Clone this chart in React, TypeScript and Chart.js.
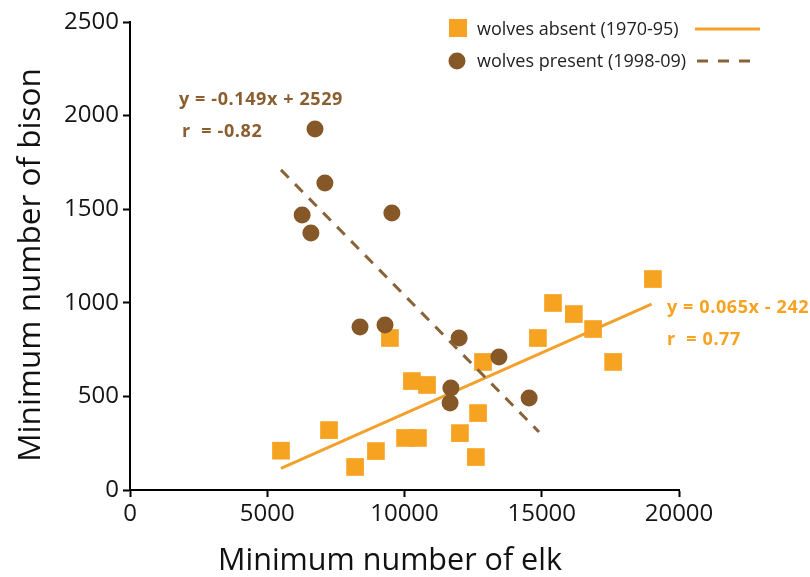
import React, { useEffect, useRef } from "react";
import { Chart, registerables } from "chart.js";

Chart.register(...registerables);

// Wolves absent (1970-95): elk vs bison
const absentElk = [5500, 7250, 8200, 8960, 9470, 10020, 10490, 10270, 10820, 12020, 12680, 12600, 12860, 14860, 15410, 16170, 16870, 17600, 19050];
const absentBison = [210, 320, 123, 208, 812, 278, 278, 582, 561, 304, 411, 176, 684, 812, 999, 940, 860, 684, 1127];

// Wolves present (1998-09)
const presentElk = [6740, 7100, 6270, 6590, 9540, 8380, 9290, 11990, 13440, 11690, 11660, 14540];
const presentBison = [1928, 1640, 1469, 1373, 1480, 871, 881, 812, 710, 545, 465, 491];

// Fit line end points as drawn
const absentFitElk = [5500, 19000];
const absentFitBison = [116, 993];
const presentFitElk = [5500, 14900];
const presentFitBison = [1710, 310];

const xTicks = [0, 5000, 10000, 15000, 20000];
const yTicks = [0, 500, 1000, 1500, 2000, 2500];

const ORANGE = "#F6A322";
const ORANGE_LINE = "#F3A12C";
const BROWN = "#875827";
const BROWN_TEXT = "#8A5E31";
const BROWN_LINE = "#8A6238";
const FONT = '"Open Sans", "DejaVu Sans", sans-serif';

const zip = (xs: number[], ys: number[]) => xs.map((x, i) => ({ x, y: ys[i] }));

const overlay = {
  id: "overlay",
  afterDraw(chart: any) {
    const ctx = chart.ctx as any;
    ctx.save();
    // Axis titles
    ctx.fillStyle = "#111";
    ctx.font = `30.5px ${FONT}`;
    ctx.textAlign = "center";
    ctx.textBaseline = "alphabetic";
    ctx.fillText("Minimum number of elk", 390, 570);
    ctx.save();
    ctx.translate(40, 265);
    ctx.rotate(-Math.PI / 2);
    ctx.font = `31.5px ${FONT}`;
    ctx.fillText("Minimum number of bison", 0, 0);
    ctx.restore();

    // Legend
    ctx.textAlign = "left";
    ctx.font = `18px ${FONT}`;
    ctx.fillStyle = ORANGE;
    ctx.fillRect(449, 19, 18, 18);
    ctx.fillStyle = "#222";
    ctx.fillText("wolves absent (1970-95)", 477, 35);
    ctx.strokeStyle = ORANGE_LINE;
    ctx.lineWidth = 3;
    ctx.beginPath();
    ctx.moveTo(695, 29);
    ctx.lineTo(760, 29);
    ctx.stroke();

    ctx.fillStyle = BROWN;
    ctx.beginPath();
    ctx.arc(457, 61, 8.5, 0, Math.PI * 2);
    ctx.fill();
    ctx.fillStyle = "#222";
    ctx.fillText("wolves present (1998-09)", 477, 67);
    ctx.strokeStyle = BROWN_LINE;
    ctx.setLineDash([11, 10]);
    ctx.beginPath();
    ctx.moveTo(697, 61);
    ctx.lineTo(760, 61);
    ctx.stroke();
    ctx.setLineDash([]);

    // Equations
    ctx.font = `bold 18px ${FONT}`;
    ctx.letterSpacing = "0.6px";
    ctx.fillStyle = BROWN_TEXT;
    ctx.fillText("y = -0.149x + 2529", 179, 105);
    ctx.fillText("r  = -0.82", 182, 137);
    ctx.fillStyle = ORANGE;
    ctx.fillText("y = 0.065x - 242", 667, 313);
    ctx.fillText("r  = 0.77", 667, 345);
    ctx.letterSpacing = "0px";
    ctx.restore();
  },
};

export default function App() {
  const ref = useRef<HTMLCanvasElement>(null);
  useEffect(() => {
    if (!ref.current) return;
    const axisCommon = {
      grid: {
        display: true,
        drawOnChartArea: false,
        drawTicks: true,
        tickLength: 7,
        tickWidth: 2,
        color: "#000",
      },
      border: { display: true, color: "#000", width: 2 },
    };
    const chart = new Chart(ref.current, {
      type: "scatter",
      data: {
        datasets: [
          {
            label: "present fit",
            data: zip(presentFitElk, presentFitBison),
            showLine: true,
            borderColor: BROWN_LINE,
            borderWidth: 3,
            borderDash: [11, 9],
            pointRadius: 0,
          },
          {
            label: "wolves present (1998-09)",
            data: zip(presentElk, presentBison),
            pointStyle: "circle",
            pointRadius: 8.5,
            backgroundColor: BROWN,
            borderWidth: 0,
          },
          {
            label: "absent fit",
            data: zip(absentFitElk, absentFitBison),
            showLine: true,
            borderColor: ORANGE_LINE,
            borderWidth: 3,
            pointRadius: 0,
          },
          {
            label: "wolves absent (1970-95)",
            data: zip(absentElk, absentBison),
            pointStyle: "rect",
            pointRadius: 12.5,
            backgroundColor: ORANGE,
            borderWidth: 0,
          },
        ],
      },
      options: {
        animation: false,
        responsive: false,
        layout: { padding: { left: 0, top: 22, right: 131, bottom: 0 } },
        plugins: { legend: { display: false }, tooltip: { enabled: false } },
        scales: {
          x: {
            type: "linear",
            min: xTicks[0],
            max: xTicks[xTicks.length - 1],
            afterBuildTicks: (s: any) => {
              s.ticks = xTicks.map((v) => ({ value: v }));
            },
            afterFit: (s: any) => {
              s.height = 87;
            },
            ticks: {
              font: { family: FONT, size: 24 },
              color: "#151515",
              padding: 3,
              callback: (v: any) => String(v),
            },
            ...axisCommon,
          },
          y: {
            type: "linear",
            min: yTicks[0],
            max: yTicks[yTicks.length - 1],
            afterBuildTicks: (s: any) => {
              s.ticks = yTicks.map((v) => ({ value: v }));
            },
            afterFit: (s: any) => {
              s.width = 130;
            },
            ticks: {
              font: { family: FONT, size: 24 },
              color: "#151515",
              padding: 4,
              callback: (v: any) => String(v),
            },
            ...axisCommon,
          },
        },
      },
      plugins: [overlay],
    } as any);
    return () => chart.destroy();
  }, []);
  return (
    <div style={{ position: "absolute", left: 0, top: 0, width: 810, height: 577, background: "#fff" }}>
      <canvas ref={ref} width={810} height={577} />
    </div>
  );
}
